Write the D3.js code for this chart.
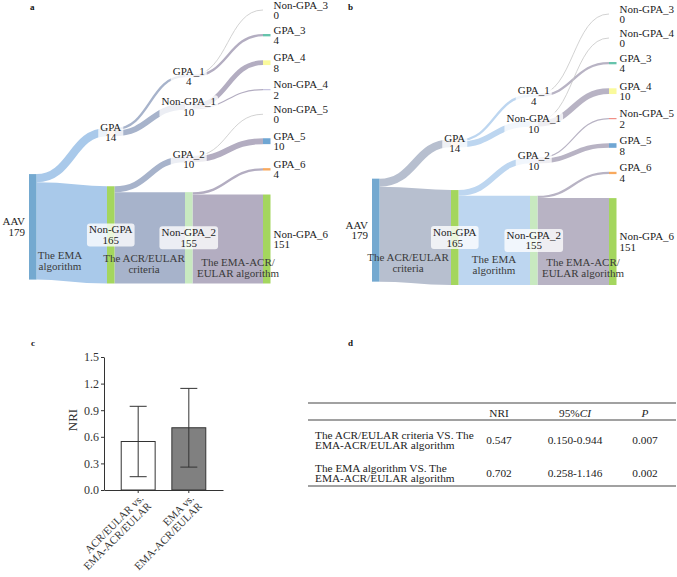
<!DOCTYPE html>
<html>
<head>
<meta charset="utf-8">
<script src="https://cdn.jsdelivr.net/npm/d3@7"></script>
<style>
  body { margin: 0; background: #fff; }
  svg { font-family: "Liberation Serif", "Times New Roman", serif; }
</style>
</head>
<body>
<svg id="fig" width="677" height="577"></svg>
<script>
// ---------- data ----------
// panel a: EMA -> ACR/EULAR -> EMA-ACR/EULAR
const nodesA = ["AAV", "GPA", "Non-GPA", "GPA_1", "Non-GPA_1", "GPA_2", "Non-GPA_2",
  "Non-GPA_3", "GPA_3", "GPA_4", "Non-GPA_4", "Non-GPA_5", "GPA_5", "GPA_6", "Non-GPA_6"];
const linksA = [
  ["AAV", "GPA", 14], ["AAV", "Non-GPA", 165],
  ["GPA", "GPA_1", 4], ["GPA", "Non-GPA_1", 10],
  ["Non-GPA", "GPA_2", 10], ["Non-GPA", "Non-GPA_2", 155],
  ["GPA_1", "Non-GPA_3", 0], ["GPA_1", "GPA_3", 4],
  ["Non-GPA_1", "GPA_4", 8], ["Non-GPA_1", "Non-GPA_4", 2],
  ["GPA_2", "Non-GPA_5", 0], ["GPA_2", "GPA_5", 10],
  ["Non-GPA_2", "GPA_6", 4], ["Non-GPA_2", "Non-GPA_6", 151]
];
const stagesA = [["The EMA", "algorithm"], ["The ACR/EULAR", "criteria"], ["The EMA-ACR/", "EULAR algorithm"]];

// panel b: ACR/EULAR -> EMA -> EMA-ACR/EULAR
const nodesB = ["AAV", "GPA", "Non-GPA", "GPA_1", "Non-GPA_1", "GPA_2", "Non-GPA_2",
  "Non-GPA_3", "Non-GPA_4", "GPA_3", "GPA_4", "Non-GPA_5", "GPA_5", "GPA_6", "Non-GPA_6"];
const linksB = [
  ["AAV", "GPA", 14], ["AAV", "Non-GPA", 165],
  ["GPA", "GPA_1", 4], ["GPA", "Non-GPA_1", 10],
  ["Non-GPA", "GPA_2", 10], ["Non-GPA", "Non-GPA_2", 155],
  ["GPA_1", "Non-GPA_3", 0], ["GPA_1", "GPA_3", 4],
  ["Non-GPA_1", "Non-GPA_4", 0], ["Non-GPA_1", "GPA_4", 10],
  ["GPA_2", "Non-GPA_5", 2], ["GPA_2", "GPA_5", 8],
  ["Non-GPA_2", "GPA_6", 4], ["Non-GPA_2", "Non-GPA_6", 151]
];
const stagesB = [["The ACR/EULAR", "criteria"], ["The EMA", "algorithm"], ["The EMA-ACR/", "EULAR algorithm"]];

// panel c
const nriGroups = [["ACR/EULAR vs.", "EMA-ACR/EULAR"], ["EMA vs.", "EMA-ACR/EULAR"]];
const nriValues = [0.547, 0.702];
const nriLow = [0.150, 0.258];
const nriHigh = [0.944, 1.146];
const nriTicks = [0, 0.3, 0.6, 0.9, 1.2, 1.5];

// panel d
const tableRows = [
  [["The ACR/EULAR criteria VS. The", "EMA-ACR/EULAR algorithm"], "0.547", "0.150-0.944", "0.007"],
  [["The EMA algorithm VS. The", "EMA-ACR/EULAR algorithm"], "0.702", "0.258-1.146", "0.002"]
];

// ---------- styles ----------
const nodeColor = {
  "AAV": "#74a9d0", "GPA": "#fdd6b0", "Non-GPA": "#a4d65e",
  "GPA_1": "#c9d9ef", "Non-GPA_1": "#dce2ee", "GPA_2": "#d7cbe2", "Non-GPA_2": "#c8e9c0",
  "Non-GPA_3": "#cccccc", "GPA_3": "#66c4ac", "GPA_4": "#fafa9c", "Non-GPA_4": "#c4c1de",
  "Non-GPA_5": "#f08a80", "GPA_5": "#6fa6d3", "GPA_6": "#f8a95e", "Non-GPA_6": "#a4d65e"
};
const textColor = "#222";

const svg = d3.select("#fig");

// sankey layout: nodes keep their order; each node settles halfway between
// the spot that lines it up with its sources and the one that lines it up with its targets
function layoutSankey(names, links, ext, dx, py, iterations) {
  const [[x0, y0], [x1, y1]] = ext;
  const nodes = names.map((name, index) => ({name, index, sourceLinks: [], targetLinks: []}));
  const byName = new Map(nodes.map(d => [d.name, d]));
  const L = links.map(([s, t, v], index) => ({source: byName.get(s), target: byName.get(t), value: v, index}));
  L.forEach(l => { l.source.sourceLinks.push(l); l.target.targetLinks.push(l); });
  nodes.forEach(n => n.value = Math.max(d3.sum(n.sourceLinks, d => d.value), d3.sum(n.targetLinks, d => d.value)));

  let current = new Set(nodes), next = new Set(), k = 0;
  while (current.size) {
    for (const n of current) { n.depth = k; for (const {target} of n.sourceLinks) next.add(target); }
    ++k; current = next; next = new Set();
  }
  const X = d3.max(nodes, d => d.depth) + 1;
  const kx = (x1 - x0 - dx) / (X - 1);
  const columns = d3.range(X).map(() => []);
  nodes.forEach(n => {
    n.layer = n.sourceLinks.length ? n.depth : X - 1;
    n.x0 = x0 + n.layer * kx;
    n.x1 = n.x0 + dx;
    columns[n.layer].push(n);
  });

  const byBreadth = (a, b) => a.y0 - b.y0;
  const bySrc = (a, b) => byBreadth(a.source, b.source) || a.index - b.index;
  const byTgt = (a, b) => byBreadth(a.target, b.target) || a.index - b.index;
  const reorderLinks = () => nodes.forEach(n => { n.sourceLinks.sort(byTgt); n.targetLinks.sort(bySrc); });

  const ky = d3.min(columns, c => (y1 - y0 - (c.length - 1) * py) / d3.sum(c, d => d.value));
  columns.forEach(col => {
    let y = y0;
    col.forEach(n => {
      n.y0 = y; n.y1 = y + n.value * ky; y = n.y1 + py;
      n.sourceLinks.forEach(l => l.width = l.value * ky);
    });
    y = (y1 - y + py) / (col.length + 1);
    col.forEach((n, i) => { n.y0 += y * (i + 1); n.y1 += y * (i + 1); });
  });

  function targetTop(source, target) {
    let y = source.y0 - (source.sourceLinks.length - 1) * py / 2;
    for (const {target: n, width} of source.sourceLinks) { if (n === target) break; y += width + py; }
    for (const {source: n, width} of target.targetLinks) { if (n === source) break; y -= width; }
    return y;
  }
  function sourceTop(source, target) {
    let y = target.y0 - (target.targetLinks.length - 1) * py / 2;
    for (const {source: n, width} of target.targetLinks) { if (n === source) break; y += width + py; }
    for (const {target: n, width} of source.sourceLinks) { if (n === target) break; y -= width; }
    return y;
  }
  function resolve(ns) {
    let y = y1;
    for (let i = ns.length - 1; i >= 0; --i) {
      const n = ns[i], d = n.y1 - y;
      if (d > 0) { n.y0 -= d; n.y1 -= d; }
      y = n.y0 - py;
    }
    y = y0;
    for (const n of ns) {
      const d = y - n.y0;
      if (d > 0) { n.y0 += d; n.y1 += d; }
      y = n.y1 + py;
    }
  }
  for (let it = 0; it < iterations; ++it) {
    reorderLinks();
    const moves = [];
    nodes.forEach(n => {
      const ideal = [];
      let y = 0, w = 0;
      n.sourceLinks.forEach(l => { if (l.value > 0) { y += sourceTop(n, l.target) * l.value; w += l.value; } });
      if (w > 0) ideal.push(y / w);
      y = 0; w = 0;
      n.targetLinks.forEach(l => { if (l.value > 0) { y += targetTop(l.source, n) * l.value; w += l.value; } });
      if (w > 0) ideal.push(y / w);
      if (ideal.length) moves.push([n, (d3.mean(ideal) - n.y0) * 0.5]);
    });
    moves.forEach(([n, d]) => { n.y0 += d; n.y1 += d; });
    columns.forEach(resolve);
  }
  reorderLinks();
  nodes.forEach(n => {
    let a = n.y0, b = n.y0;
    n.sourceLinks.forEach(l => { l.y0 = a + l.width / 2; a += l.width; });
    n.targetLinks.forEach(l => { l.y1 = b + l.width / 2; b += l.width; });
  });
  return {nodes, links: L, last: X - 1};
}

function drawSankey(cfg) {
  const lay = layoutSankey(cfg.names, cfg.links, cfg.extent, cfg.nodeWidth, 24, 200);
  const g = svg.append("g");
  const link = d3.linkHorizontal();
  const colX = d3.scaleLinear().domain([0, lay.last]).range([cfg.extent[0][0], cfg.extent[1][0] - cfg.nodeWidth]);

  g.append("g").selectAll("path")
    .data(lay.links.filter(l => l.value > 0))
    .join("path")
      .attr("d", l => link({source: [l.source.x1, l.y0], target: [l.target.x0, l.y1]}))
      .attr("fill", "none")
      .attr("stroke", l => cfg.linkColors[l.source.layer])
      .attr("stroke-width", l => l.width);

  g.append("g").selectAll("path")
    .data(lay.links.filter(l => l.value === 0))
    .join("path")
      .attr("d", l => link({source: [l.source.x1, l.y0], target: [l.target.x0, l.y1]}))
      .attr("fill", "none")
      .attr("stroke", "#c6c6c6")
      .attr("stroke-width", 0.8);

  g.append("g").selectAll("rect")
    .data(lay.nodes)
    .join("rect")
      .attr("x", n => n.x0)
      .attr("y", n => n.y0)
      .attr("width", n => n.x1 - n.x0)
      .attr("height", n => Math.max(n.y1 - n.y0, 0.01))
      .attr("fill", n => nodeColor[n.name]);

  // stage captions
  cfg.stages.forEach((lines, i) => {
    const t = g.append("text")
      .attr("text-anchor", "middle")
      .attr("font-size", 11)
      .attr("fill", "#3a3a3a");
    lines.forEach((s, j) => t.append("tspan")
      .attr("x", colX(i) + cfg.captionDx[i])
      .attr("y", cfg.captionY[i] + j * 11)
      .text(s));
  });

  // node labels
  lay.nodes.forEach(n => {
    const cy = (n.y0 + n.y1) / 2;
    let cx, anchor;
    if (n.layer === 0) { cx = n.x0 - 4; anchor = "end"; }
    else if (n.layer === lay.last) { cx = n.x1 + 3; anchor = "start"; }
    else { cx = (n.x0 + n.x1) / 2; anchor = "middle"; }
    const lg = g.append("g");
    const box = lg.append("rect");
    const t = lg.append("text")
      .attr("text-anchor", anchor)
      .attr("font-size", 11)
      .attr("fill", textColor);
    t.append("tspan").attr("x", cx).attr("y", cy - 1.5).text(n.name);
    t.append("tspan").attr("x", cx).attr("y", cy + 9).text(n.value);
    if (anchor === "middle") {
      const bb = t.node().getBBox();
      box.attr("x", bb.x - 2).attr("y", cy - 11.5)
        .attr("width", bb.width + 4).attr("height", 23)
        .attr("rx", 3)
        .attr("fill", "#fff").attr("fill-opacity", 0.78);
    } else {
      box.remove();
    }
  });
}

drawSankey({
  names: nodesA, links: linksA, stages: stagesA,
  extent: [[29, 10], [270.5, 283.5]], nodeWidth: 7.5,
  linkColors: ["#a9c9ea", "#a7b3cb", "#b3adc1"],
  captionDx: [31, 37, 53], captionY: [259, 262, 266]
});
drawSankey({
  names: nodesB, links: linksB, stages: stagesB,
  extent: [[372, 14], [616.5, 285]], nodeWidth: 7.5,
  linkColors: ["#b7bfcf", "#bdd6f0", "#b8b3c4"],
  captionDx: [36, 43, 53], captionY: [261, 263, 266]
});

// panel letters
[["a", 30, 10], ["b", 348, 10], ["c", 31, 346], ["d", 348, 346]].forEach(([s, px, py]) => {
  svg.append("text").attr("x", px).attr("y", py)
    .attr("font-size", 9).attr("font-weight", "bold").attr("fill", "#111").text(s);
});

// ---------- panel c: NRI bars ----------
const axisColor = "#333";
const groupKeys = nriGroups.map(d => d.join(" "));
const yN = d3.scaleLinear().domain([0, 1.5]).range([490, 357]);
const xN = d3.scaleBand().domain(groupKeys).range([104, 223]).paddingInner(0.33).paddingOuter(0.34);
const gc = svg.append("g");

gc.append("g")
  .attr("transform", "translate(104,0)")
  .call(d3.axisLeft(yN).tickValues(nriTicks).tickFormat(d3.format(".1f")).tickSize(3).tickSizeOuter(0).tickPadding(2))
  .call(a => a.selectAll("text").attr("font-size", 12).attr("font-family", "Liberation Serif, serif").attr("fill", axisColor))
  .call(a => a.selectAll("line,path").attr("stroke", axisColor));

gc.append("g")
  .attr("transform", "translate(0,490)")
  .call(d3.axisBottom(xN).tickSize(3).tickSizeOuter(0).tickFormat(""))
  .call(a => a.selectAll("line,path").attr("stroke", axisColor));

gc.selectAll("rect.bar")
  .data(nriValues)
  .join("rect")
    .attr("class", "bar")
    .attr("x", (d, i) => xN(groupKeys[i]))
    .attr("y", d => yN(d))
    .attr("width", xN.bandwidth())
    .attr("height", d => yN(0) - yN(d))
    .attr("fill", (d, i) => i === 0 ? "#fff" : "#808080")
    .attr("stroke", axisColor)
    .attr("stroke-width", 1);

const capW = 17;
nriValues.forEach((d, i) => {
  const cx = xN(groupKeys[i]) + xN.bandwidth() / 2;
  gc.append("line").attr("x1", cx).attr("x2", cx).attr("y1", yN(nriLow[i])).attr("y2", yN(nriHigh[i]))
    .attr("stroke", axisColor);
  [nriLow[i], nriHigh[i]].forEach(v => gc.append("line")
    .attr("x1", cx - capW / 2).attr("x2", cx + capW / 2).attr("y1", yN(v)).attr("y2", yN(v))
    .attr("stroke", axisColor));
  const t = gc.append("text")
    .attr("transform", `translate(${cx + 6},499) rotate(-45)`)
    .attr("text-anchor", "end").attr("font-size", 11).attr("fill", axisColor);
  nriGroups[i].forEach((s, j) => t.append("tspan").attr("x", 0).attr("y", j * 11).text(s));
});

gc.append("text")
  .attr("transform", "translate(77,420) rotate(-90)")
  .attr("text-anchor", "middle").attr("font-size", 13).attr("fill", axisColor)
  .text("NRI");

// ---------- panel d: table ----------
const gd = svg.append("g").attr("font-size", 11.3).attr("fill", textColor);
const colX = [315, 499, 575, 645];
[403, 420, 486].forEach(ry => gd.append("line")
  .attr("x1", 308).attr("x2", 676).attr("y1", ry).attr("y2", ry)
  .attr("stroke", "#444").attr("stroke-width", 1.2));

gd.append("text").attr("x", colX[1]).attr("y", 417).attr("text-anchor", "middle").text("NRI");
const ciHead = gd.append("text").attr("x", colX[2]).attr("y", 417).attr("text-anchor", "middle");
ciHead.append("tspan").text("95%");
ciHead.append("tspan").attr("font-style", "italic").text("CI");
gd.append("text").attr("x", colX[3]).attr("y", 417).attr("text-anchor", "middle")
  .attr("font-style", "italic").text("P");

const rowY = [440, 473];
tableRows.forEach((row, r) => {
  const t = gd.append("text");
  row[0].forEach((s, j) => t.append("tspan").attr("x", colX[0]).attr("y", rowY[r] - 1.5 + j * 10.5).text(s));
  row.slice(1).forEach((s, k) => gd.append("text")
    .attr("x", colX[k + 1]).attr("y", rowY[r] + 3.5)
    .attr("text-anchor", "middle").text(s));
});
</script>
</body>
</html>
